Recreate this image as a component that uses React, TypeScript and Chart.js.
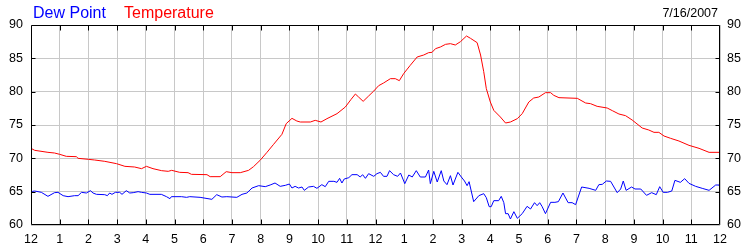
import React, { useEffect, useRef } from "react";
import { Chart, registerables } from "chart.js";

Chart.register(...registerables);

const xTickLabels = ["12", "1", "2", "3", "4", "5", "6", "7", "8", "9", "10", "11", "12", "1", "2", "3", "4", "5", "6", "7", "8", "9", "10", "11", "12"];
const yTicks = [60, 65, 70, 75, 80, 85, 90];
const legendLabels = ["Dew Point", "Temperature"];
const dateLabel = "7/16/2007";

const tempHours = [0, 0.13, 0.59, 0.82, 1.0, 1.23, 1.58, 1.64, 2.0, 2.22, 2.57, 2.98, 3.27, 3.61, 3.85, 4.02, 4.25, 4.55, 4.78, 4.9, 5.18, 5.47, 5.59, 6.13, 6.24, 6.59, 6.8, 7.0, 7.29, 7.58, 7.75, 7.98, 8.22, 8.45, 8.74, 8.89, 9.09, 9.26, 9.38, 9.73, 9.9, 10.1, 10.31, 10.66, 10.95, 11.15, 11.3, 11.41, 11.57, 11.76, 11.94, 12.11, 12.28, 12.52, 12.69, 12.83, 12.98, 13.21, 13.45, 13.68, 13.85, 13.97, 14.09, 14.26, 14.44, 14.61, 14.78, 14.96, 15.17, 15.31, 15.54, 15.66, 15.77, 15.86, 16.0, 16.12, 16.35, 16.53, 16.7, 16.94, 17.11, 17.34, 17.51, 17.69, 17.92, 18.1, 18.21, 18.39, 19.03, 19.32, 19.49, 19.72, 20.07, 20.25, 20.48, 20.71, 20.94, 21.29, 21.52, 21.7, 21.87, 22.05, 22.28, 22.57, 22.92, 23.27, 23.62, 24.0];
const tempValues = [71.5, 71.2, 70.9, 70.8, 70.6, 70.3, 70.25, 70.0, 69.85, 69.75, 69.55, 69.2, 68.8, 68.7, 68.45, 68.8, 68.45, 68.15, 68.05, 68.2, 67.9, 67.85, 67.6, 67.55, 67.25, 67.25, 68.0, 67.85, 67.85, 68.2, 68.75, 69.7, 70.9, 72.1, 73.6, 75.2, 76.0, 75.6, 75.45, 75.45, 75.7, 75.45, 75.95, 76.7, 77.7, 78.85, 79.65, 79.2, 78.55, 79.35, 80.1, 80.9, 81.3, 81.95, 81.95, 81.65, 82.7, 83.95, 85.2, 85.5, 85.85, 85.9, 86.45, 86.7, 87.1, 87.2, 87.0, 87.5, 88.35, 88.0, 87.35, 85.5, 83.0, 80.45, 78.45, 77.2, 76.2, 75.3, 75.45, 75.95, 76.7, 78.45, 79.05, 79.2, 79.85, 79.85, 79.45, 79.1, 79.0, 78.3, 78.2, 77.8, 77.55, 77.15, 76.65, 76.4, 75.75, 74.55, 74.25, 73.9, 73.9, 73.35, 73.0, 72.6, 71.95, 71.5, 70.9, 70.9];

const dewHours = [0, 0.05, 0.13, 0.36, 0.59, 0.82, 0.94, 1.12, 1.29, 1.52, 1.64, 1.76, 1.93, 2.07, 2.16, 2.28, 2.57, 2.66, 2.74, 2.82, 2.94, 3.09, 3.17, 3.32, 3.44, 3.56, 3.73, 3.85, 4.02, 4.14, 4.54, 4.72, 4.84, 4.89, 5.24, 5.42, 5.53, 5.89, 6.3, 6.47, 6.65, 6.82, 7.17, 7.35, 7.52, 7.7, 7.93, 8.16, 8.33, 8.5, 8.68, 8.86, 9.0, 9.09, 9.2, 9.32, 9.44, 9.52, 9.67, 9.84, 9.96, 10.13, 10.25, 10.37, 10.55, 10.66, 10.75, 10.83, 10.91, 11.07, 11.18, 11.36, 11.47, 11.55, 11.65, 11.76, 11.94, 12.05, 12.17, 12.28, 12.4, 12.49, 12.63, 12.77, 12.87, 13.02, 13.16, 13.28, 13.42, 13.56, 13.74, 13.85, 13.91, 14.03, 14.15, 14.29, 14.38, 14.49, 14.61, 14.7, 14.78, 14.87, 14.99, 15.1, 15.19, 15.26, 15.42, 15.6, 15.77, 15.86, 15.96, 16.03, 16.12, 16.29, 16.38, 16.47, 16.53, 16.62, 16.7, 16.82, 16.94, 17.11, 17.28, 17.4, 17.54, 17.63, 17.72, 17.8, 17.92, 18.1, 18.25, 18.37, 18.53, 18.71, 18.85, 18.97, 19.18, 19.44, 19.67, 19.78, 19.9, 20.04, 20.19, 20.42, 20.54, 20.63, 20.73, 20.92, 21.04, 21.24, 21.44, 21.62, 21.78, 21.9, 22.02, 22.17, 22.32, 22.43, 22.62, 22.77, 22.92, 23.15, 23.38, 23.62, 23.85, 23.97, 24.0];
const dewValues = [64.8, 65.05, 65.1, 64.9, 64.3, 64.85, 64.9, 64.4, 64.25, 64.4, 64.4, 64.9, 64.8, 65.15, 64.8, 64.6, 64.55, 64.4, 64.8, 64.6, 64.9, 64.9, 64.6, 65.15, 64.8, 64.85, 65.0, 64.9, 64.8, 64.6, 64.6, 64.25, 63.95, 64.25, 64.25, 64.15, 64.25, 64.15, 63.85, 64.55, 64.2, 64.25, 64.15, 64.6, 64.8, 65.55, 65.9, 65.75, 66.0, 66.3, 65.8, 65.95, 66.15, 65.55, 65.8, 65.55, 65.7, 65.2, 65.7, 65.8, 65.5, 66.05, 65.75, 66.55, 66.55, 66.4, 67.0, 66.3, 66.9, 67.1, 67.55, 67.55, 67.2, 67.55, 67.0, 67.7, 67.3, 67.7, 67.9, 67.3, 67.3, 68.15, 67.55, 67.3, 67.8, 66.2, 67.5, 67.2, 68.15, 67.2, 67.2, 68.25, 66.2, 68.05, 66.45, 68.15, 66.6, 66.05, 67.4, 66.0, 66.9, 67.9, 67.2, 66.6, 65.9, 66.5, 63.5, 64.4, 64.7, 64.1, 62.75, 62.75, 63.65, 63.65, 64.3, 63.35, 61.7, 61.7, 60.9, 62.0, 61.0, 61.7, 62.8, 62.4, 63.35, 62.9, 63.35, 62.8, 61.7, 63.4, 63.4, 63.5, 64.8, 63.35, 63.35, 63.05, 65.7, 65.5, 65.2, 66.05, 66.1, 66.6, 66.55, 64.85, 65.4, 66.6, 65.2, 65.7, 65.4, 65.4, 64.45, 64.85, 64.55, 65.75, 64.9, 64.9, 65.1, 66.7, 66.4, 66.95, 66.25, 65.8, 65.5, 65.2, 66.0, 66.0, 65.5];

const FONT = "'Liberation Sans', Arial, sans-serif";

const framePlugin = {
  id: "frameAndTitle",
  afterDraw(chart: any) {
    const { ctx, chartArea } = chart;
    const L = Math.round(chartArea.left) + 0.5;
    const R = Math.round(chartArea.right) - 0.5;
    const T = Math.round(chartArea.top) + 0.5;
    const B = Math.round(chartArea.bottom) - 0.5;
    ctx.save();
    ctx.strokeStyle = "#000";
    ctx.lineWidth = 1;
    ctx.beginPath();
    ctx.moveTo(L, T); ctx.lineTo(R, T); ctx.lineTo(R, B); ctx.lineTo(L, B); ctx.closePath();
    for (let h = 1; h < xTickLabels.length - 1; h++) {
      const x = Math.round(chart.scales.x.getPixelForValue(h)) + 0.5;
      ctx.moveTo(x, T); ctx.lineTo(x, T + 5);
      ctx.moveTo(x, B); ctx.lineTo(x, B - 5);
    }
    for (const v of yTicks.slice(1, -1)) {
      const y = Math.round(chart.scales.y.getPixelForValue(v)) + 0.5;
      ctx.moveTo(L, y); ctx.lineTo(L + 4, y);
      ctx.moveTo(R, y); ctx.lineTo(R - 4, y);
    }
    ctx.stroke();
    ctx.font = `16px ${FONT}`;
    ctx.textBaseline = "alphabetic";
    ctx.textAlign = "left";
    ctx.fillStyle = "#0000ff";
    ctx.fillText(legendLabels[0], 33, 18);
    ctx.fillStyle = "#ff0000";
    ctx.fillText(legendLabels[1], 124, 18);
    ctx.font = `12.5px ${FONT}`;
    ctx.fillStyle = "#000";
    ctx.textAlign = "right";
    ctx.fillText(dateLabel, 718, 17);
    ctx.restore();
  },
};

export default function App() {
  const ref = useRef<HTMLCanvasElement>(null);
  useEffect(() => {
    if (!ref.current) return;
    const chart = new Chart(ref.current, {
      type: "line",
      data: {
        datasets: [
          {
            label: legendLabels[0],
            data: dewHours.map((h, i) => ({ x: h, y: dewValues[i] })),
            borderColor: "#0000ff",
            borderWidth: 1,
            pointRadius: 0,
            tension: 0,
            yAxisID: "y",
          },
          {
            label: legendLabels[1],
            data: tempHours.map((h, i) => ({ x: h, y: tempValues[i] })),
            borderColor: "#ff0000",
            borderWidth: 1,
            pointRadius: 0,
            tension: 0,
            yAxisID: "y",
          },
        ],
      },
      options: {
        responsive: false,
        animation: false,
        layout: { padding: { top: 25, left: 0, right: 0, bottom: 0 } },
        plugins: { legend: { display: false }, tooltip: { enabled: false } },
        scales: {
          x: {
            type: "linear",
            min: 0,
            max: 24,
            afterFit: (s: any) => { s.height = 25; },
            ticks: {
              stepSize: 1,
              autoSkip: false,
              maxRotation: 0,
              padding: 7,
              color: "#000",
              font: { family: FONT, size: 12.5 },
              callback: (v: any) => xTickLabels[Math.round(Number(v))],
            },
            grid: { color: "#c8c8c8", lineWidth: 1, drawTicks: false },
            border: { display: false },
          },
          y: {
            position: "left",
            min: 60,
            max: 90,
            afterFit: (s: any) => { s.width = 31; },
            ticks: { stepSize: 5, padding: 8, color: "#000", font: { family: FONT, size: 12.5 } },
            grid: { color: "#c8c8c8", lineWidth: 1, drawTicks: false },
            border: { display: false },
          },
          y2: {
            position: "right",
            min: 60,
            max: 90,
            afterFit: (s: any) => { s.width = 30; },
            ticks: { stepSize: 5, padding: 7, color: "#000", font: { family: FONT, size: 12.5 } },
            grid: { drawOnChartArea: false, drawTicks: false },
            border: { display: false },
          },
        },
      },
      plugins: [framePlugin],
    });
    return () => chart.destroy();
  }, []);
  return (
    <div style={{ position: "absolute", left: 0, top: 0, width: 750, height: 250, background: "#fff" }}>
      <canvas ref={ref} width={750} height={250} />
    </div>
  );
}
